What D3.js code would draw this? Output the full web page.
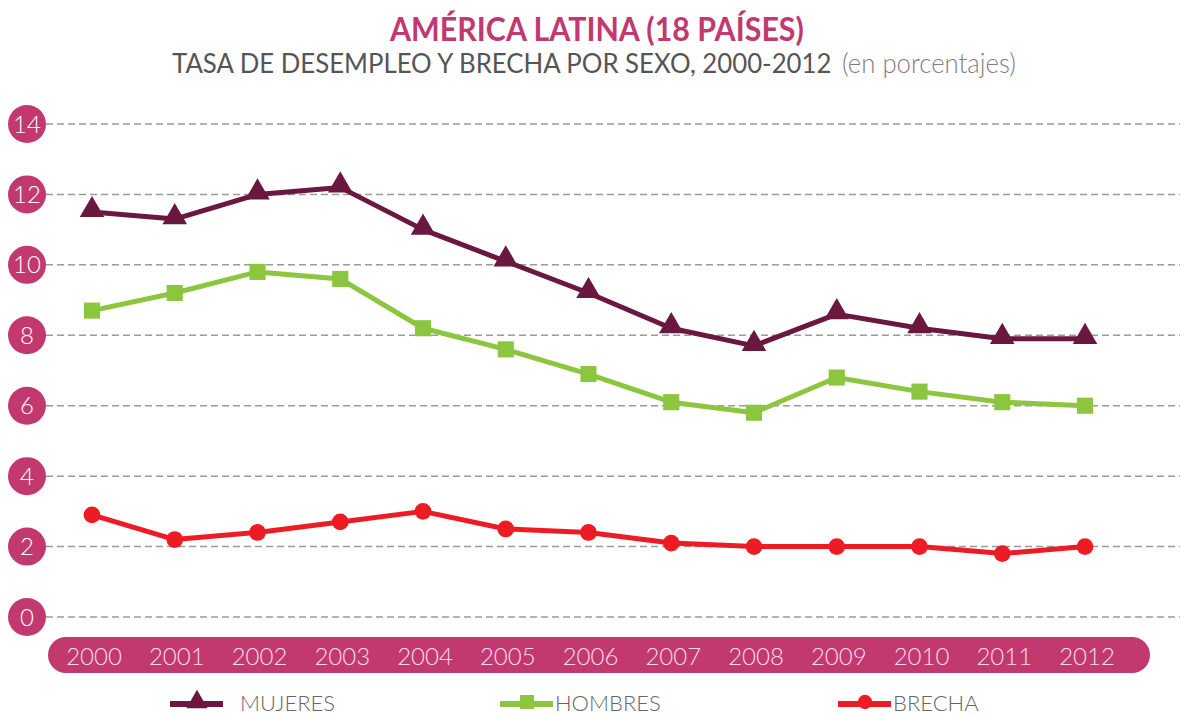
<!DOCTYPE html>
<html>
  <head>
    <style>
      html,
      body { margin: 0; background: #fff; }
      svg { display: block; }
    </style>
    <script src="https://d3js.org/d3.v7.js"></script>
  </head>
  <body>
    <svg class="chart"></svg>

    <script>
      const width = 1180;
      const height = 717;

      const years = [2000, 2001, 2002, 2003, 2004, 2005, 2006, 2007, 2008, 2009, 2010, 2011, 2012];
      const mujeres = [11.5, 11.3, 12.0, 12.2, 11.0, 10.1, 9.2, 8.2, 7.7, 8.6, 8.2, 7.9, 7.9];
      const hombres = [8.7, 9.2, 9.8, 9.6, 8.2, 7.6, 6.9, 6.1, 5.8, 6.8, 6.4, 6.1, 6.0];
      const brecha = [2.9, 2.2, 2.4, 2.7, 3.0, 2.5, 2.4, 2.1, 2.0, 2.0, 2.0, 1.8, 2.0];
      const yTicks = [0, 2, 4, 6, 8, 10, 12, 14];

      const pink = '#c2396f';
      const font = 'Lato, "Open Sans", sans-serif';

      const series = [
        { name: 'MUJERES', values: mujeres, color: '#6b1840', symbol: d3.symbolTriangle, size: 260 },
        { name: 'HOMBRES', values: hombres, color: '#8cc63f', symbol: d3.symbolSquare, size: 260 },
        { name: 'BRECHA', values: brecha, color: '#ed1c24', symbol: d3.symbolCircle, size: 220 },
      ];

      const svg = d3.select('svg')
        .attr('width', width)
        .attr('height', height);

      const x = d3.scaleLinear().domain([2000, 2012]).range([92, 1085]);
      const y = d3.scaleLinear().domain([0, 14]).range([617, 124]);

      // squeeze a text horizontally so it spans [x0, x0 + w], like the condensed original font
      const fitText = (sel, x0, baseline, w) => {
        const natural = sel.node().getComputedTextLength();
        const sx = w / natural;
        sel.attr('x', 0).attr('y', 0)
          .attr('transform', `translate(${x0},${baseline}) scale(${sx},1)`);
      };

      // titles
      const title = svg.append('text')
        .style('font-family', font).style('font-weight', 700)
        .style('font-size', '33px').style('fill', pink)
        .text('AMÉRICA LATINA (18 PAÍSES)');
      fitText(title, 390, 41, 414);

      const sub1 = svg.append('text')
        .style('font-family', font).style('font-size', '27px').style('fill', '#555')
        .text('TASA DE DESEMPLEO Y BRECHA POR SEXO, 2000-2012');
      fitText(sub1, 172, 73, 660);

      const sub2 = svg.append('text')
        .style('font-family', font).style('font-weight', 300)
        .style('font-size', '27px').style('fill', '#7f7f7f')
        .text('(en porcentajes)');
      fitText(sub2, 842, 73, 174);

      // grid
      svg.append('g')
        .selectAll('line')
        .data(yTicks)
        .join('line')
        .attr('x1', 46).attr('x2', width)
        .attr('y1', (d) => y(d)).attr('y2', (d) => y(d))
        .style('stroke', '#9a9a9a')
        .style('stroke-width', 1.5)
        .style('stroke-dasharray', '7,4');

      // y tick bubbles
      const yt = svg.append('g')
        .selectAll('g')
        .data(yTicks)
        .join('g')
        .attr('transform', (d) => `translate(27,${y(d)})`);
      yt.append('circle').attr('r', 19).style('fill', pink);
      yt.append('text')
        .attr('text-anchor', 'middle').attr('dy', '0.36em')
        .style('font-family', font).style('font-weight', 300)
        .style('font-size', '24px').style('fill', '#fff')
        .text((d) => d);

      // year band
      svg.append('rect')
        .attr('x', 48).attr('y', 637)
        .attr('width', 1102).attr('height', 36)
        .attr('rx', 18)
        .style('fill', pink);
      svg.append('g')
        .selectAll('text')
        .data(years)
        .join('text')
        .attr('x', (d) => x(d) + 2).attr('y', 656)
        .attr('text-anchor', 'middle').attr('dy', '0.36em')
        .style('font-family', font).style('font-weight', 300)
        .style('font-size', '24px').style('fill', '#f7dde8')
        .text((d) => d);

      // lines + markers
      const line = d3.line()
        .x((d, i) => x(years[i]))
        .y((d) => y(d));

      series.slice().reverse().forEach((s) => {
        svg.append('path')
          .datum(s.values)
          .attr('d', line)
          .style('fill', 'none')
          .style('stroke', s.color)
          .style('stroke-width', 5)
          .style('stroke-linejoin', 'round');
        svg.append('g')
          .selectAll('path')
          .data(s.values)
          .join('path')
          .attr('transform', (d, i) => `translate(${x(years[i])},${y(d) - (s.symbol === d3.symbolTriangle ? 2 : 0)})`)
          .attr('d', d3.symbol(s.symbol, s.size))
          .style('fill', s.color);
      });

      // legend
      const legendX = [170, 500, 838];
      const leg = svg.append('g')
        .selectAll('g')
        .data(series)
        .join('g')
        .attr('transform', (d, i) => `translate(${legendX[i]},704)`);
      leg.append('line')
        .attr('x1', 0).attr('x2', 53)
        .style('stroke', (d) => d.color)
        .style('stroke-width', 6);
      leg.append('path')
        .attr('transform', 'translate(27,-2)')
        .attr('d', (d) => d3.symbol(d.symbol, d.size * 0.75)())
        .style('fill', (d) => d.color);
      leg.append('text')
        .attr('x', (d, i) => [70, 55, 55][i])
        .attr('dy', '0.34em')
        .style('font-family', font).style('font-weight', 300)
        .style('font-size', '22px').style('fill', '#666')
        .text((d) => d.name);
    </script>
  </body>
</html>
